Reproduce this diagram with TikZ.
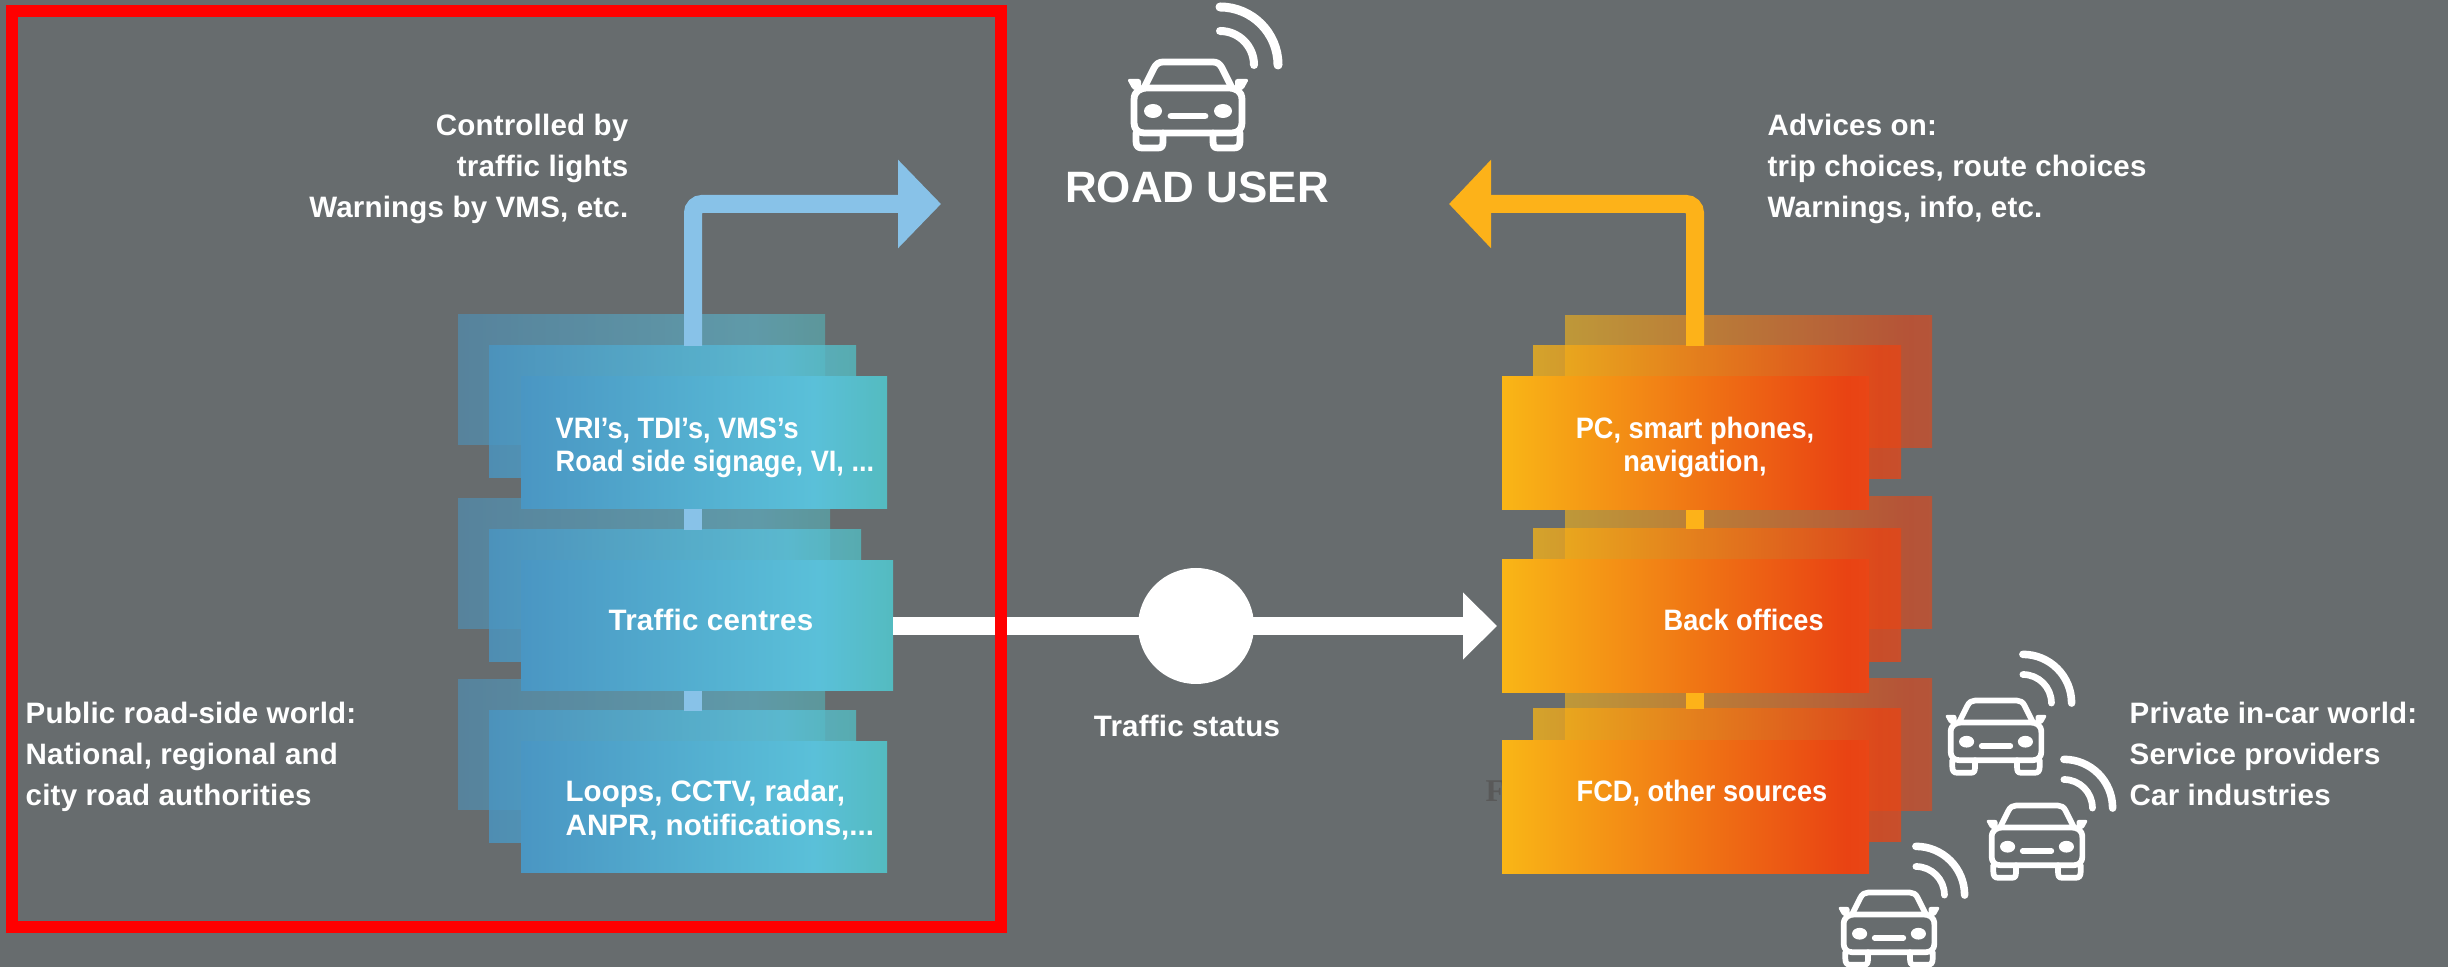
\documentclass[tikz,border=0pt]{standalone}
\usepackage{fontspec}
\setmainfont{Liberation Sans}
\newfontfamily\ghostfont{Liberation Serif}
\usetikzlibrary{arrows.meta}
\definecolor{slate}{RGB}{103,108,110}
\definecolor{skybar}{RGB}{136,194,232}
\definecolor{ambbar}{RGB}{253,178,25}
\definecolor{framered}{RGB}{255,0,0}
\definecolor{bluea}{RGB}{74,150,195}
\definecolor{blueb}{RGB}{90,192,217}
\definecolor{bluec}{RGB}{84,187,192}
\definecolor{orangea}{RGB}{249,182,22}
\definecolor{orangeb}{RGB}{233,67,19}
\definecolor{orangec}{RGB}{233,70,22}
\pgfdeclarehorizontalshading{blueramp}{100bp}{color(0bp)=(bluea); color(25bp)=(bluea); color(65bp)=(blueb); color(75bp)=(bluec); color(100bp)=(bluec)}
\pgfdeclarehorizontalshading{orangeramp}{100bp}{color(0bp)=(orangea); color(25bp)=(orangea); color(72bp)=(orangeb); color(75bp)=(orangec); color(100bp)=(orangec)}
\tikzset{
  plate/.style={anchor=north west,inner sep=0pt,outer sep=0pt,minimum height=#1,shade},
  bluefront/.style={plate=13.2mm,shading=blueramp},
  bluemid/.style={plate=13.2mm,shading=blueramp,opacity=0.8},
  blueback/.style={plate=13mm,shading=blueramp,opacity=0.55},
  orangefront/.style={plate=13.3mm,shading=orangeramp},
  orangemid/.style={plate=13.3mm,shading=orangeramp,opacity=0.75},
  orangeback/.style={plate=13.2mm,shading=orangeramp,opacity=0.6},
  lbl/.style={text=white,font=\fontsize{8.4pt}{11.8pt}\selectfont\bfseries\addfontfeatures{LetterSpace=0.7},inner sep=0pt,anchor=base west,align=left},
  lblclose/.style={lbl,font=\fontsize{8.4pt}{9.6pt}\selectfont\bfseries},
  lblnarrow/.style={lbl,font=\fontsize{8.4pt}{9.6pt}\selectfont\bfseries\addfontfeatures{FakeStretch=0.92}},
  skyline/.style={draw=skybar,line width=1.8mm},
  ambline/.style={draw=ambbar,line width=1.8mm},
}
\def\roadcar(#1,#2)#3{
  \begin{scope}[shift={(#1,#2)},scale=#3,draw=white,fill=white,line width=#3*0.68mm,line cap=round,line join=round]
    \draw (-54,-3) .. controls (-54,-12) and (-48,-15) .. (-40,-15) -- (40,-15) .. controls (48,-15) and (54,-12) .. (54,-3) -- (54,20) .. controls (54,26) and (50,30) .. (44,30) -- (-44,30) .. controls (-50,30) and (-54,26) .. (-54,20) -- cycle;
    \draw (-44,-15) -- (-34,-35) .. controls (-32,-39) and (-29,-41) .. (-25,-41) -- (25,-41) .. controls (29,-41) and (32,-39) .. (34,-35) -- (44,-15);
    \draw (-52,30) -- (-52,38) .. controls (-52,43) and (-50,45) .. (-46,45) -- (-30,45) .. controls (-26,45) and (-25,43) .. (-25,38) -- (-25,30);
    \draw (52,30) -- (52,38) .. controls (52,43) and (50,45) .. (46,45) -- (30,45) .. controls (26,45) and (25,43) .. (25,38) -- (25,30);
    \fill[rounded corners=0.25mm] (-61,-24) -- (-47,-24) -- (-47,-13) -- (-55,-13) -- cycle;
    \fill[rounded corners=0.25mm] (61,-24) -- (47,-24) -- (47,-13) -- (55,-13) -- cycle;
    \fill (-35,8) ellipse (9 and 7);
    \fill (35,8) ellipse (9 and 7);
    \draw (-17,13) -- (17,13);
    \draw[line width=#3*0.9mm] (32,-96) arc (-90:0:58);
    \draw[line width=#3*0.8mm] (32,-72) arc (-90:0:34);
  \end{scope}
}

\begin{document}
\begin{tikzpicture}[x=0.1mm,y=-0.1mm]
  \useasboundingbox (0,0) rectangle (2448,967);
  \fill[slate] (0,0) rectangle (2448,967);

  % ghost letter under the orange stack
  \node[text=black!65,font=\ghostfont\fontsize{9pt}{9pt}\selectfont\bfseries,inner sep=0pt,anchor=base west] (ghost) at (1485,802) {F};

  % blue stack
  \node[blueback,minimum width=36.7mm] (bluebackA) at (458,315) {};
  \node[bluemid,minimum width=36.7mm] (bluemidA) at (489,346) {};
  \node[blueback,minimum width=37.2mm] (bluebackB) at (458,499) {};
  \node[bluemid,minimum width=37.2mm] (bluemidB) at (489,530) {};
  \node[blueback,minimum width=36.7mm] (bluebackC) at (458,680) {};
  \node[bluemid,minimum width=36.7mm] (bluemidC) at (489,711) {};
  \node[bluefront,minimum width=36.6mm] (bluefrontA) at (521,377) {};
  \node[bluefront,minimum width=37.2mm,minimum height=13mm] (bluefrontB) at (521,561) {};
  \node[bluefront,minimum width=36.6mm,minimum height=13.1mm] (bluefrontC) at (521,742) {};

  % orange stack
  \node[orangeback,minimum width=36.7mm] (orangebackA) at (1565,316) {};
  \node[orangemid,minimum width=36.8mm] (orangemidA) at (1533,346) {};
  \node[orangeback,minimum width=36.7mm] (orangebackB) at (1565,497) {};
  \node[orangemid,minimum width=36.8mm] (orangemidB) at (1533,529) {};
  \node[orangeback,minimum width=36.7mm] (orangebackC) at (1565,679) {};
  \node[orangemid,minimum width=36.8mm] (orangemidC) at (1533,709) {};
  \node[orangefront,minimum width=36.7mm] (orangefrontA) at (1502,377) {};
  \node[orangefront,minimum width=36.7mm] (orangefrontB) at (1502,560) {};
  \node[orangefront,minimum width=36.7mm] (orangefrontC) at (1502,741) {};

  % bars between the plates
  \coordinate (skyfoot) at (693,346);
  \coordinate (skytip) at (941,204);
  \coordinate (ambfoot) at (1695,346);
  \coordinate (ambtip) at (1449,204);
  \draw[skyline,rounded corners=0.9mm,-{Triangle[length=4.3mm,width=8.6mm]}] (skyfoot) |- (skytip);
  \draw[ambline,rounded corners=0.9mm,-{Triangle[length=4.2mm,width=8.6mm]}] (ambfoot) |- (ambtip);
  \draw[skyline] (bluefrontA.south -| skyfoot) -- (bluemidB.north -| skyfoot);
  \draw[skyline] (bluefrontB.south -| skyfoot) -- (bluemidC.north -| skyfoot);
  \draw[ambline] (orangefrontA.south -| ambfoot) -- (orangemidB.north -| ambfoot);
  \draw[ambline] (orangefrontB.south -| ambfoot) -- (orangemidC.north -| ambfoot);

  % traffic status link
  \draw[draw=white,line width=1.8mm,shorten >=0.5mm,-{Triangle[length=3.4mm,width=6.5mm]}] (bluefrontB.east) -- (bluefrontB.east -| orangefrontB.west);
  \node[circle,fill=white,inner sep=0pt,minimum size=11.6mm] (statusdot) at (1196,626) {};

  % labels
  \node[lbl,anchor=base east,align=right] (controlled) at (629,218) {Controlled by\\traffic lights\\Warnings by VMS, etc.};
  \node[lbl] (advices) at (1767,218) {Advices on:\\trip choices, route choices\\Warnings, info, etc.};
  \node[lbl] (publicworld) at (25,806) {Public road-side world:\\National, regional and\\city road authorities};
  \node[lbl] (privateworld) at (2129,806) {Private in-car world:\\Service providers\\Car industries};
  \node[lblnarrow] (signage) at (555,472) {VRI’s, TDI’s, VMS’s\\Road side signage, VI, ...};
  \node[lbl] (centres) at (608,631) {Traffic centres};
  \node[lblclose] (loops) at (565,835) {Loops, CCTV, radar,\\ANPR, notifications,...};
  \node[lblnarrow,anchor=base,align=center] (phones) at (1695,472) {PC, smart phones,\\navigation,};
  \node[lblnarrow] (backoffices) at (1663,631) {Back offices};
  \node[lblnarrow] (fcd) at (1576,802) {FCD, other sources};
  \node[lbl,anchor=base] (status) at (1187,737) {Traffic status};
  \node[text=white,font=\fontsize{12.5pt}{14pt}\selectfont\bfseries,inner sep=0pt,anchor=base] (roaduser) at (1197,203) {ROAD USER};

  % cars
  \roadcar(1188,103){1}
  \roadcar(1996,735){0.84}
  \roadcar(2037,840){0.84}
  \roadcar(1889,927){0.84}

  % red frame
  \draw[framered,line width=1.2mm] (11.7,11) rectangle (1001,927);
\end{tikzpicture}
\end{document}
